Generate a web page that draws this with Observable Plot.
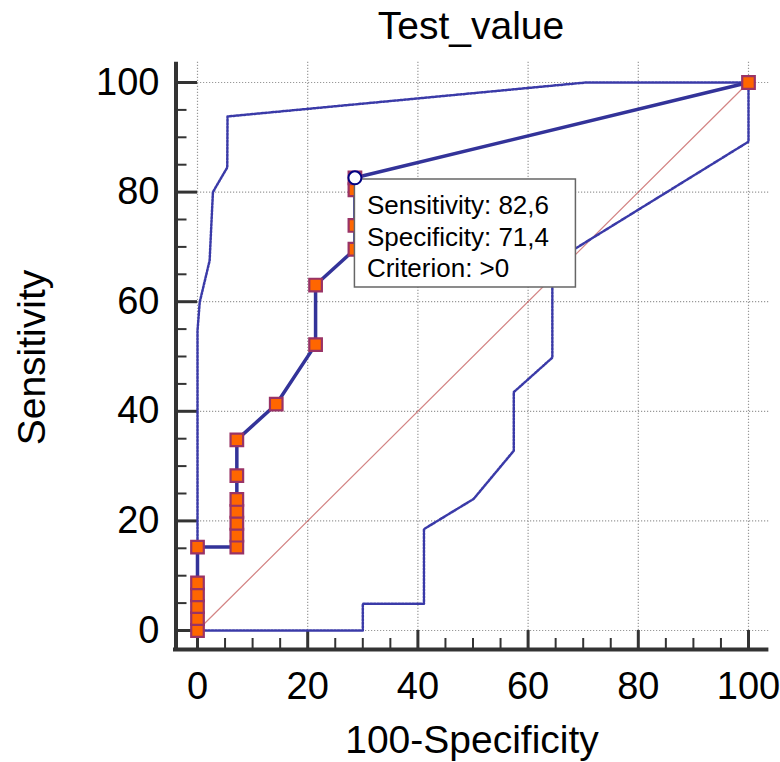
<!DOCTYPE html>
<html>
<head>
<meta charset="utf-8">
<script src="https://cdn.jsdelivr.net/npm/d3@7"></script>
<script src="https://cdn.jsdelivr.net/npm/@observablehq/plot@0.6"></script>
<style>
  html, body { margin: 0; padding: 0; background: #fff; }
  #title { width: 780px; height: 50px; box-sizing: border-box; padding-left: 162px; text-align: center;
           font: 39px "Liberation Sans", Arial, sans-serif; line-height: 52px; color: #000; overflow: visible; white-space: nowrap; }
</style>
</head>
<body>
<div id="title">Test_value</div>
<div id="chart"></div>
<script>
// ROC curve points (100-Specificity, Sensitivity)
const fpr  = [0, 0, 0, 0, 0, 0, 7.14, 7.14, 7.14, 7.14, 7.14, 7.14, 7.14, 14.29, 21.43, 21.43, 28.57, 28.57, 28.57, 28.57, 100];
const sens = [0, 2.17, 4.35, 6.52, 8.70, 15.22, 15.22, 17.39, 19.57, 21.74, 23.91, 28.26, 34.78, 41.30, 52.17, 63.04, 69.57, 73.91, 80.43, 82.61, 100];
// Confidence bands
const upperX = [0, 0, 0.4, 2.2, 2.8, 5.4, 5.45, 70.5, 100];
const upperY = [0, 54.7, 59.9, 67.5, 80, 84.5, 93.8, 100, 100];
const lowerX = [0, 30, 30, 41.1, 41.1, 50.1, 57.4, 57.4, 64.4, 64.4, 100, 100];
const lowerY = [0, 0, 4.87, 4.87, 18.5, 24.0, 32.8, 43.5, 49.8, 67.1, 89.2, 100];
// Reference diagonal
const diagonal = [0, 100];
// Selected criterion
const selIndex = 19;
const selSensitivity = 82.6;
const selSpecificity = 71.4;
const selCriterion = ">0";
// Ticks
const majorTicks = [0, 20, 40, 60, 80, 100];
const minorTicks = [5, 10, 15, 25, 30, 35, 45, 50, 55, 65, 70, 75, 85, 90, 95];

const roc = fpr.map((x, i) => ({x, y: sens[i]}));
const upper = upperX.map((x, i) => ({x, y: upperY[i]}));
const lower = lowerX.map((x, i) => ({x, y: lowerY[i]}));
const sel = roc[selIndex];

const W = 780, H = 712;
const mL = 197, mR = 32, mT = 32, mB = 132;
const kx = (W - mL - mR) / 100, ky = (H - mT - mB) / 100;
const axisExt = 103.7;   // how far axis lines / grid extend (data units)
const font = '"Liberation Sans", Arial, sans-serif';
const boxW = 221, boxH = 108;
const fmt = v => v.toFixed(1).replace(".", ",");
const tipText = `Sensitivity: ${fmt(selSensitivity)}\nSpecificity: ${fmt(selSpecificity)}\nCriterion: ${selCriterion}`;

const gridStyle = {stroke: "#999999", strokeWidth: 1.2, strokeDasharray: "1.2 1.8"};
const bandStyle = {stroke: "#3a3aa8", strokeWidth: 2.5, strokeDasharray: "2 1.5"};

const chart = Plot.plot({
  width: W, height: H,
  marginLeft: mL, marginRight: mR, marginTop: mT, marginBottom: mB,
  x: {domain: [0, 100]},
  y: {domain: [0, 100]},
  style: {fontFamily: font, fontSize: "38px", color: "#000", background: "#fff", overflow: "visible"},
  marks: [
    // grid
    Plot.ruleX(majorTicks, {x: d => d, y1: () => 0, y2: () => axisExt, ...gridStyle}),
    Plot.ruleY(majorTicks, {y: d => d, x1: () => 0, x2: () => axisExt, ...gridStyle}),
    // axis lines (offset from the plot area)
    Plot.ruleX([0], {x: d => d, dx: -21.5, y1: () => -19 / ky, y2: () => axisExt, stroke: "#333", strokeWidth: 4}),
    Plot.ruleY([0], {y: d => d, dy: 19, x1: () => -24 / kx, x2: () => axisExt, stroke: "#333", strokeWidth: 4}),
    // y axis ticks
    Plot.axisY({ticks: majorTicks, tickSize: 21, tickPadding: 17, stroke: "#333", strokeWidth: 3, label: null, fontSize: 38}),
    Plot.axisY({ticks: minorTicks, tickSize: 11, dx: -10.5, tickFormat: () => "", stroke: "#333", strokeWidth: 2, label: null}),
    // x axis ticks
    Plot.axisX({ticks: majorTicks, tickSize: 19, tickPadding: 23, stroke: "#333", strokeWidth: 3, label: null, fontSize: 38}),
    Plot.axisX({ticks: minorTicks, tickSize: 11, dy: 8, tickFormat: () => "", stroke: "#333", strokeWidth: 2, label: null}),
    // diagonal reference line
    Plot.line(diagonal, {x: d => d, y: d => d, stroke: "#c05050", strokeWidth: 1.2, strokeOpacity: 0.7}),
    // confidence bands
    Plot.line(upper, {x: "x", y: "y", ...bandStyle}),
    Plot.line(lower, {x: "x", y: "y", ...bandStyle}),
    // ROC curve
    Plot.line(roc, {x: "x", y: "y", stroke: "#333399", strokeWidth: 3.5}),
    Plot.dot(roc, {x: "x", y: "y", symbol: "square", r: 7.1, fill: "#ff6600", stroke: "#993366", strokeWidth: 2.2}),
    // tooltip box
    Plot.rect([sel], {x1: d => d.x, x2: d => d.x + boxW / kx, y1: d => d.y, y2: d => d.y - boxH / ky, dy: 1.7,
                      fill: "#fff", stroke: "#666", strokeWidth: 1.5}),
    Plot.text([sel], {x: "x", y: "y", text: () => tipText, textAnchor: "start", lineAnchor: "top",
                      dx: 12, dy: 14, fontSize: 26, lineHeight: 1.21, fill: "#000"}),
    // selected point
    Plot.dot([sel], {x: "x", y: "y", r: 6.5, fill: "#fff", stroke: "#000080", strokeWidth: 2}),
    // axis labels
    Plot.text(["100-Specificity"], {frameAnchor: "bottom", text: d => d, dy: 110, lineAnchor: "middle", textAnchor: "middle", fontSize: 39, dx: -1}),
    Plot.text(["Sensitivity"], {frameAnchor: "left", text: d => d, rotate: -90, dx: -164.5, dy: 1, lineAnchor: "middle", textAnchor: "middle", fontSize: 39})
  ]
});
document.getElementById("chart").appendChild(chart);
</script>
</body>
</html>
